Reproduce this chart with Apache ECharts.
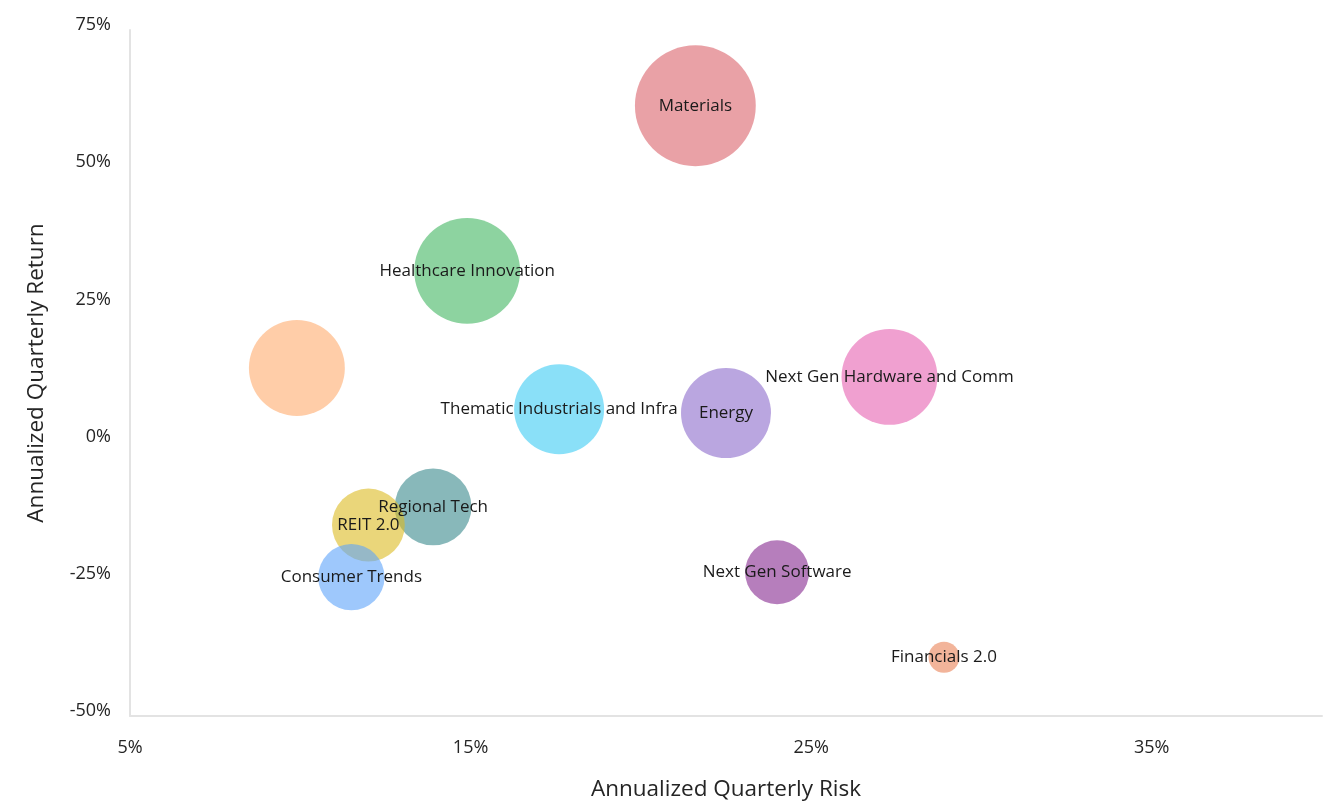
<!DOCTYPE html>
<html>
<head>
<meta charset="utf-8">
<script src="https://cdn.jsdelivr.net/npm/echarts@6/dist/echarts.min.js"></script>
<style>
  html, body { margin: 0; padding: 0; background: #fff; }
  #main { width: 1329px; height: 801px; }
</style>
</head>
<body>
<div id="main"></div>
<script>
// data
var names = ['Materials', 'Healthcare Innovation', '', 'Thematic Industrials and Infra', 'Energy',
  'Next Gen Hardware and Comm', 'Regional Tech', 'REIT 2.0', 'Consumer Trends', 'Next Gen Software', 'Financials 2.0'];
var risk = [21.6, 14.9, 9.9, 17.6, 22.5, 27.3, 13.9, 12.0, 11.5, 24.0, 28.9];
var ret = [61.2, 31.1, 13.4, 5.9, 5.2, 11.8, -11.9, -15.2, -24.7, -23.8, -39.3];
var weight = [146, 112, 92, 81, 81, 92, 59, 53, 44, 41, 9.6];
var xTicks = [5, 15, 25, 35];
var yTicks = [-50, -25, 0, 25, 50, 75];

// bubble colours, semi transparent so overlaps blend
var palette = ['rgba(218,98,107,0.6)', 'rgba(65,182,97,0.6)', 'rgba(255,172,110,0.6)',
  'rgba(60,203,243,0.6)', 'rgba(140,107,203,0.6)', 'rgba(230,97,177,0.6)',
  'rgba(57,137,140,0.6)', 'rgba(220,187,33,0.6)', 'rgba(93,163,250,0.6)',
  'rgba(133,40,143,0.6)', 'rgba(233,130,87,0.6)'];

var font = 'Open Sans';
var points = names.map(function (n, i) {
  return { name: n, value: [risk[i], ret[i], weight[i]] };
});

var chart = echarts.init(document.getElementById('main'));
chart.setOption({
  animation: false,
  color: palette,
  textStyle: { fontFamily: font },
  grid: { left: 130, right: 7, top: 30, bottom: 85, outerBoundsMode: 'none', containLabel: false },
  xAxis: {
    type: 'value',
    min: xTicks[0], max: 40, interval: 10,
    name: 'Annualized Quarterly Risk',
    nameLocation: 'middle', nameGap: 62,
    nameTextStyle: { fontSize: 22.5, color: '#252525', fontFamily: font },
    axisLine: { onZero: false, lineStyle: { color: '#e3e3e3', width: 2 } },
    axisTick: { show: false },
    splitLine: { show: false },
    axisLabel: {
      margin: 23, fontSize: 18, color: '#252525', fontFamily: font,
      formatter: function (v) { return xTicks.indexOf(v) >= 0 ? v + '%' : ''; }
    }
  },
  yAxis: {
    type: 'value',
    min: yTicks[0], max: yTicks[yTicks.length - 1], interval: 25,
    name: 'Annualized Quarterly Return',
    nameLocation: 'middle', nameGap: 82,
    nameTextStyle: { fontSize: 22.5, color: '#252525', fontFamily: font },
    axisLine: { show: true, onZero: false, lineStyle: { color: '#e3e3e3', width: 2 } },
    axisTick: { show: false },
    splitLine: { show: false },
    axisLabel: {
      margin: 19, fontSize: 18, color: '#252525', fontFamily: font,
      verticalAlign: 'bottom', lineHeight: 10,
      formatter: function (v) { return v + '%'; }
    }
  },
  series: [{
    type: 'scatter',
    colorBy: 'data',
    data: points,
    symbolSize: function (v) { return Math.sqrt(v[2]) * 10; },
    itemStyle: { opacity: 1 },
    label: {
      show: true, position: 'inside', color: '#1a1a1a', fontSize: 17, fontFamily: font,
      formatter: function (p) { return p.name; }
    },
    emphasis: { disabled: true }
  }]
});
</script>
</body>
</html>
